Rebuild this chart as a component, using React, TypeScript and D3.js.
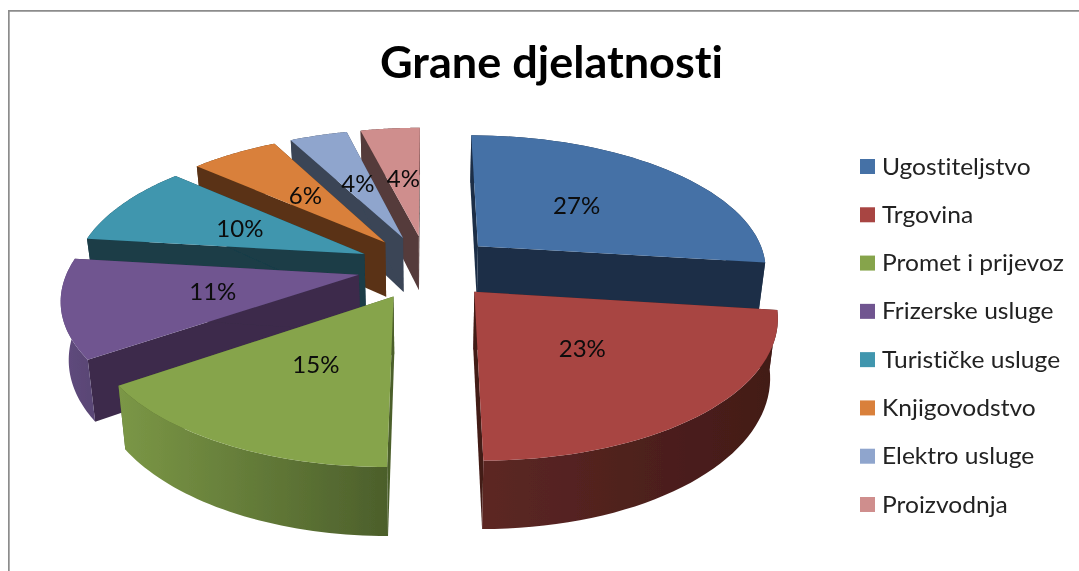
import React from 'react';
import * as d3 from 'd3';

const TITLE = "Grane djelatnosti";
const CATEGORIES = ["Ugostiteljstvo", "Trgovina", "Promet i prijevoz", "Frizerske usluge", "Turističke usluge", "Knjigovodstvo", "Elektro usluge", "Proizvodnja"];
const VALUES = [27, 23, 15.4, 11.5, 9.6, 5.8, 3.8, 3.9];
const LABELS = ["27%", "23%", "15%", "11%", "10%", "6%", "4%", "4%"];

const TOP_COLORS = ["#4571a6", "#a84442", "#86a44b", "#6f5590", "#3f96ae", "#d9803a", "#8fa5cd", "#cf8e8d"];
const CUT_COLORS = ["#1c2f47", "#431b18", "#4c5f2b", "#3c2b4b", "#1a3c47", "#5a3316", "#3a4557", "#553a3a"];
const RIM_LIGHT = ["#1c2f47", "#5c2724", "#7b9746", "#604b7e", "#1a3c47", "#5a3316", "#3a4557", "#553a3a"];
const RIM_DARK = ["#1c2f47", "#421a17", "#4c5f2b", "#5a4676", "#1a3c47", "#5a3316", "#3a4557", "#553a3a"];

// back slices get painted first
const PAINT_ORDER = [7, 6, 5, 4, 3, 2, 0, 1];

const W = 1079;
const H = 571;
const CX = 427;
const CY = 267;
const RX = 290;
const RY = 134;
const PERSP = 0.155;
const EXPLODE = 0.24;
const DEPTH = 56;
const BOTTOM_SHRINK = 0.022; // lower face sits further from the camera
const FONT = "Lato, 'Open Sans', sans-serif";

type Pt = [number, number];

function project(sliceMid: number, theta: number, r: number, z = 0): Pt {
    const x = EXPLODE * Math.sin(sliceMid) + r * Math.sin(theta);
    const y = -EXPLODE * Math.cos(sliceMid) - r * Math.cos(theta);
    const w = 1 - PERSP * y;
    return [CX + (RX * x / w) * (1 - BOTTOM_SHRINK * z), CY + RY * y / w + z * DEPTH / w];
}

const polygon = d3.line<Pt>();

export default function App() {
    const arcs = d3.pie<number>().sort(null)(VALUES);
    const legendY = d3.scalePoint<string>().domain(CATEGORIES).range([166.5, 504.5]);

    const slices = PAINT_ORDER.map(i => {
        const a = arcs[i];
        const mid = (a.startAngle + a.endAngle) / 2;
        const steps = d3.range(0, 41).map(d => a.startAngle + (a.endAngle - a.startAngle) * d / 40);
        const rimTop = steps.map(t => project(mid, t, 1));
        const rimBottom = steps.map(t => project(mid, t, 1, 1)).reverse();
        const apex = project(mid, 0, 0);
        const apexBottom = project(mid, 0, 0, 1);
        const first = rimTop[0];
        const last = rimTop[rimTop.length - 1];
        const xs = d3.extent(rimTop, p => p[0]) as [number, number];
        return {
            i,
            xs,
            top: polygon([apex, ...rimTop]) + "Z",
            rim: polygon([...rimTop, ...rimBottom]) + "Z",
            cutA: polygon([apex, first, project(mid, a.startAngle, 1, 1), apexBottom]) + "Z",
            cutB: polygon([apex, last, project(mid, a.endAngle, 1, 1), apexBottom]) + "Z",
            label: project(mid, mid, 0.5),
        };
    });

    return (
        <svg width={W} height={H} style={{ position: "absolute", left: 0, top: 0, background: "#fff", fontVariantLigatures: "none" }}>
            <defs>
                <filter id="soft" x="0" y="0" width="100%" height="100%">
                    <feGaussianBlur stdDeviation="0.45" />
                </filter>
                {slices.map(s => (
                    <linearGradient key={s.i} id={`rim${s.i}`} gradientUnits="userSpaceOnUse" x1={s.xs[0]} x2={s.xs[1]} y1={0} y2={0}>
                        <stop offset="0%" stopColor={RIM_LIGHT[s.i]} />
                        <stop offset="100%" stopColor={RIM_DARK[s.i]} />
                    </linearGradient>
                ))}
            </defs>
            <g filter="url(#soft)">
                <path d="M1079,10.5H8.5V571" fill="none" stroke="#8c8c8c" strokeWidth={2.4} />
                <text x={380} y={78} textLength={343} lengthAdjust="spacingAndGlyphs" fontFamily={FONT} fontWeight={700} fontSize={43} fill="#000">{TITLE}</text>
                {slices.map(s => (
                    <g key={s.i}>
                        <path d={s.cutA} fill={CUT_COLORS[s.i]} />
                        <path d={s.cutB} fill={CUT_COLORS[s.i]} />
                        <path d={s.rim} fill={`url(#rim${s.i})`} />
                        <path d={s.top} fill={TOP_COLORS[s.i]} />
                    </g>
                ))}
                {slices.map(s => (
                    <text key={s.i} x={s.label[0]} y={s.label[1]} dy="0.35em" textAnchor="middle" fontFamily={FONT} fontSize={24} fill="#0a0a0a">{LABELS[s.i]}</text>
                ))}
                {CATEGORIES.map((c, i) => (
                    <g key={c}>
                        <rect x={860} y={legendY(c)! - 7.5} width={15} height={15} fill={TOP_COLORS[i]} />
                        <text transform={`translate(882,${legendY(c)}) scale(1.07,1)`} dy="0.35em" fontFamily={FONT} fontSize={23} fill="#222">{c}</text>
                    </g>
                ))}
            </g>
        </svg>
    );
}
